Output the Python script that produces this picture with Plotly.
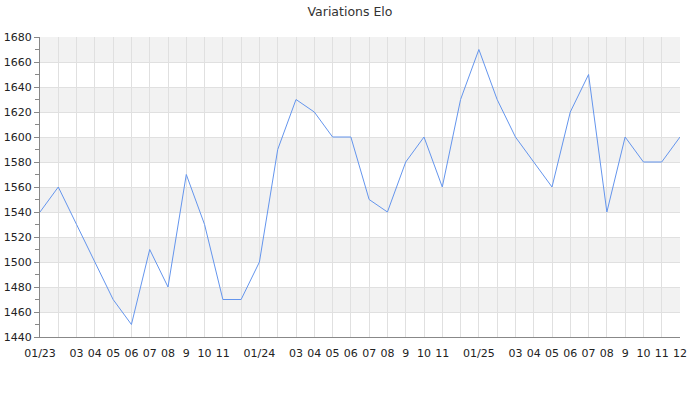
import plotly.graph_objects as go

months = list(range(36))
tick_labels = ["01/23", "", "03", "04", "05", "06", "07", "08", "9", "10", "11", "",
               "01/24", "", "03", "04", "05", "06", "07", "08", "9", "10", "11", "",
               "01/25", "", "03", "04", "05", "06", "07", "08", "9", "10", "11", "12"]
elo = [1540, 1560, 1530, 1500, 1470, 1450, 1510, 1480, 1570, 1530, 1470, 1470,
       1500, 1590, 1630, 1620, 1600, 1600, 1550, 1540, 1580, 1600, 1560, 1630,
       1670, 1630, 1600, 1580, 1560, 1620, 1650, 1540, 1600, 1580, 1580, 1600]
band_starts = [1460, 1500, 1540, 1580, 1620, 1660]
band_height = 20

fig = go.Figure()
fig.add_trace(go.Scatter(x=months, y=elo, mode="lines",
                         line=dict(color="#6495ED", width=1), hoverinfo="x+y"))

for b in band_starts:
    fig.add_shape(type="rect", xref="x", yref="y", x0=0, x1=35, y0=b, y1=b + band_height,
                  fillcolor="#f2f2f2", line=dict(width=0), layer="below")

fig.update_layout(
    width=700, height=400,
    margin=dict(l=40, r=20, t=37, b=63, autoexpand=False),
    paper_bgcolor="white", plot_bgcolor="white",
    font=dict(family="DejaVu Sans", size=11, color="#333"),
    title=dict(text="Variations Elo", x=0.5, xanchor="center",
               yref="container", y=0.97, yanchor="middle",
               font=dict(size=12.5, color="#333")),
    showlegend=False,
)
fig.update_xaxes(range=[0, 35], tickmode="array", tickvals=months, ticktext=tick_labels,
                 showgrid=True, gridcolor="#e0e0e0", gridwidth=1,
                 showline=True, linecolor="#888", linewidth=1,
                 ticks="outside", ticklen=6, tickcolor="rgba(0,0,0,0)",
                 zeroline=False, tickangle=0, automargin=False,
                 tickfont=dict(size=11, color="#222"))
fig.update_yaxes(range=[1440, 1680], dtick=20, tick0=1440,
                 showgrid=True, gridcolor="#e0e0e0", gridwidth=1,
                 showline=True, linecolor="#888", linewidth=1,
                 ticks="outside", ticklen=5, tickcolor="#888",
                 minor=dict(dtick=10, ticks="outside", ticklen=4, tickcolor="#888", showgrid=False),
                 zeroline=False, automargin=False, tickfont=dict(size=11, color="#222"))

fig.write_html("out.html", config={"displayModeBar": False},
               post_script="document.body.style.margin='0';")
